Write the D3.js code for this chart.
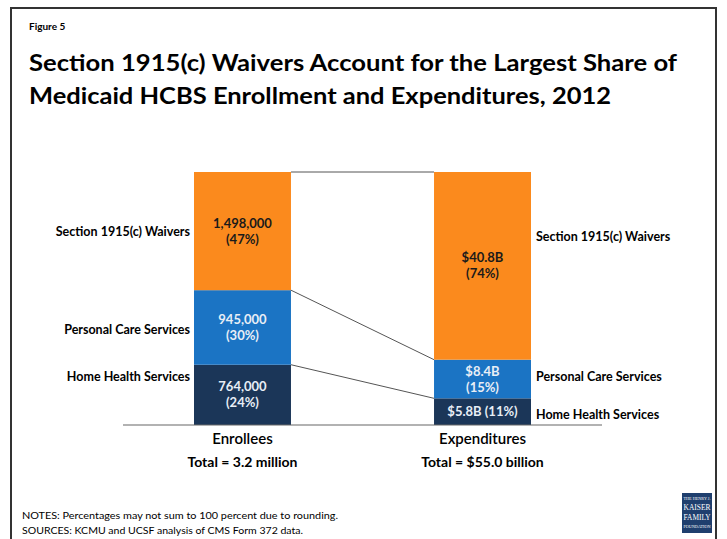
<!DOCTYPE html>
<html>
<head>
<meta charset="utf-8">
<script src="https://cdn.jsdelivr.net/npm/d3@7"></script>
<style>
  body { margin: 0; background: #fff; }
  svg { display: block; font-family: Lato, "Open Sans", sans-serif; }
</style>
</head>
<body>
<div id="main"></div>
<script>
// chart data
var groups = ['Enrollees', 'Expenditures'];
var groupTotals = ['Total = 3.2 million', 'Total = $55.0 billion'];
var services = ['Home Health Services', 'Personal Care Services', 'Section 1915(c) Waivers'];
var enrollees = [764000, 945000, 1498000];
var expenditures = [5.8, 8.4, 40.8];
var enrolleeLabels = [['764,000', '(24%)'], ['945,000', '(30%)'], ['1,498,000', '(47%)']];
var expenditureLabels = [['$5.8B (11%)'], ['$8.4B', '(15%)'], ['$40.8B', '(74%)']];
var colors = ['#1b3658', '#1b74c4', '#fb8a1d'];
var labelColors = ['#e8eef6', '#e8eef6', '#1a1a1a'];

const w = 727, h = 539;

const svg = d3.select('#main').append('svg')
    .attr('width', w)
    .attr('height', h);

// frame round the slide
svg.append('rect')
    .attr('x', 11).attr('y', 8)
    .attr('width', 705).attr('height', 560)
    .attr('fill', 'none')
    .attr('stroke', '#333')
    .attr('stroke-width', 2);

svg.append('text')
    .attr('x', 29).attr('y', 30)
    .attr('font-size', 10).attr('font-weight', 'bold')
    .text('Figure 5');

svg.append('text')
    .attr('x', 29).attr('y', 71)
    .attr('font-size', 23).attr('font-weight', 'bold')
    .attr('textLength', 648).attr('lengthAdjust', 'spacingAndGlyphs')
    .text('Section 1915(c) Waivers Account for the Largest Share of');

svg.append('text')
    .attr('x', 29).attr('y', 104)
    .attr('font-size', 23).attr('font-weight', 'bold')
    .attr('textLength', 582).attr('lengthAdjust', 'spacingAndGlyphs')
    .text('Medicaid HCBS Enrollment and Expenditures, 2012');

// scales: each bar is stacked to 100 percent of its own total
const xScale = d3.scaleBand()
    .domain(groups)
    .range([194, 531])
    .paddingInner(0.596)
    .paddingOuter(0);

const yScale = d3.scaleLinear()
    .domain([0, 1])
    .range([425, 172]);

function stackUp(vals) {
    var total = d3.sum(vals), acc = 0;
    return vals.map(v => { var s = [acc / total, (acc + v) / total]; acc += v; return s; });
}

var stacks = [stackUp(enrollees), stackUp(expenditures)];
var labelSets = [enrolleeLabels, expenditureLabels];

// connector lines between the bars
const x0 = xScale(groups[0]) + xScale.bandwidth();
const x1 = xScale(groups[1]);
svg.selectAll('line.conn')
    .data([2, 1, 0])
    .enter().append('line')
    .attr('class', 'conn')
    .attr('x1', x0).attr('x2', x1)
    .attr('y1', i => yScale(stacks[0][i][1]))
    .attr('y2', i => yScale(stacks[1][i][1]))
    .attr('stroke', '#555')
    .attr('stroke-width', 1);

groups.forEach((g, gi) => {
    var gEl = svg.append('g');
    gEl.selectAll('rect')
        .data(stacks[gi])
        .enter().append('rect')
        .attr('x', xScale(g))
        .attr('width', xScale.bandwidth())
        .attr('y', d => yScale(d[1]))
        .attr('height', d => yScale(d[0]) - yScale(d[1]))
        .attr('fill', (d, i) => colors[i]);

    // value labels inside the segments
    stacks[gi].forEach((d, i) => {
        var lines = labelSets[gi][i];
        var cy = (yScale(d[0]) + yScale(d[1])) / 2;
        var t = gEl.append('text')
            .attr('x', xScale(g) + xScale.bandwidth() / 2)
            .attr('text-anchor', 'middle')
            .attr('font-size', 13).attr('font-weight', 'bold')
            .attr('fill', labelColors[i]);
        lines.forEach((ln, li) => {
            t.append('tspan')
                .attr('x', xScale(g) + xScale.bandwidth() / 2)
                .attr('y', cy + 4.5 + (li - (lines.length - 1) / 2) * 16)
                .text(ln);
        });
    });

    // group name and total under the bars
    svg.append('text')
        .attr('x', xScale(g) + xScale.bandwidth() / 2).attr('y', 444)
        .attr('text-anchor', 'middle').attr('font-size', 15).attr('font-weight', 600)
        .text(g);
    svg.append('text')
        .attr('x', xScale(g) + xScale.bandwidth() / 2).attr('y', 467)
        .attr('text-anchor', 'middle').attr('font-size', 14).attr('font-weight', 'bold')
        .text(groupTotals[gi]);
});

// baseline
svg.append('line')
    .attr('x1', 123).attr('x2', 602)
    .attr('y1', yScale(0)).attr('y2', yScale(0))
    .attr('stroke', '#666').attr('stroke-width', 1.2);

// service labels, left of the first bar and right of the second
var leftY = [381, 334, 236];
var rightY = [419, 381, 241];
services.forEach((s, i) => {
    svg.append('text')
        .attr('x', xScale(groups[0]) - 4).attr('y', leftY[i])
        .attr('text-anchor', 'end')
        .attr('font-size', 12.5).attr('font-weight', 'bold')
        .text(s);
    svg.append('text')
        .attr('x', xScale(groups[1]) + xScale.bandwidth() + 5).attr('y', rightY[i])
        .attr('font-size', 12.5).attr('font-weight', 'bold')
        .text(s);
});

// notes
svg.append('text')
    .attr('x', 22).attr('y', 519).attr('font-size', 9.5)
    .attr('textLength', 316).attr('lengthAdjust', 'spacingAndGlyphs')
    .text('NOTES: Percentages may not sum to 100 percent due to rounding.');
svg.append('text')
    .attr('x', 22).attr('y', 534).attr('font-size', 9.5)
    .attr('textLength', 281).attr('lengthAdjust', 'spacingAndGlyphs')
    .text('SOURCES: KCMU and UCSF analysis of CMS Form 372 data.');

// logo box
var logo = svg.append('g').attr('transform', 'translate(682,493)');
logo.append('rect').attr('width', 30).attr('height', 40).attr('fill', '#1f3f6e');
[['THE HENRY J.', 4, 7], ['KAISER', 7.5, 17], ['FAMILY', 7.5, 27], ['FOUNDATION', 3.5, 35]].forEach(l => {
    logo.append('text')
        .attr('x', 15).attr('y', l[2])
        .attr('text-anchor', 'middle')
        .attr('font-family', 'Liberation Serif, serif')
        .attr('font-size', l[1]).attr('fill', '#fff')
        .attr('textLength', 27).attr('lengthAdjust', 'spacingAndGlyphs')
        .text(l[0]);
});
</script>
</body>
</html>
